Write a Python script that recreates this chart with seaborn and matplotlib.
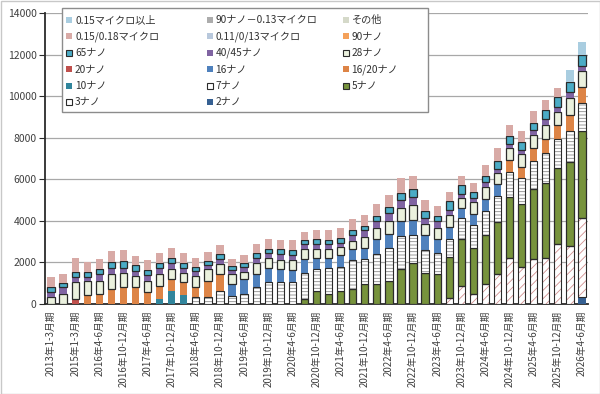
import numpy as np
import pandas as pd
import matplotlib
matplotlib.use("Agg")
import matplotlib.pyplot as plt
import seaborn as sns
from matplotlib.patches import Rectangle

# ---------------- data ----------------
quarters = ["1-3", "4-6", "7-9", "10-12"]
periods = ["2013年1-3月期", "2014年1-3月期", "2015年1-3月期"] + \
          [f"{y}年{q}月期" for y in range(2016, 2027) for q in quarters][:42]

n2 = [0, 0, 0, 0, 0, 0, 0, 0, 0, 0, 0, 0, 0, 0, 0, 0, 0, 0, 0, 0, 0, 0, 0, 0, 0, 0, 0, 0, 0, 0,
      0, 0, 0, 0, 0, 0, 0, 0, 0, 0, 0, 0, 0, 0, 320]
n3 = [0, 0, 0, 0, 0, 0, 0, 0, 0, 0, 0, 0, 0, 0, 0, 0, 0, 0, 0, 0, 0, 0, 0, 0, 0, 0, 0, 0, 0, 0,
      0, 0, 0, 270, 880, 480, 960, 1460, 2230, 1800, 2180, 2230, 2870, 2790, 3820]
n5 = [0, 0, 0, 0, 0, 0, 0, 0, 0, 0, 0, 0, 0, 0, 0, 0, 0, 0, 0, 0, 0, 240, 640, 480, 640, 720, 960, 960, 1110, 1670,
      1960, 1510, 1430, 2010, 2230, 2230, 2380, 2470, 2940, 3030, 3350, 3620, 3660, 4060, 4190]
n7 = [0, 0, 0, 0, 0, 0, 0, 0, 0, 0, 0, 0, 330, 320, 640, 400, 480, 800, 1040, 1040, 1070, 1270, 1060, 1270, 1160, 1400, 1190, 1430, 1600, 1590,
      1380, 1080, 1040, 860, 1030, 1110, 1120, 1280, 1200, 1220, 1350, 1400, 1430, 1480, 1340]
n10 = [0, 0, 0, 0, 0, 0, 0, 0, 0, 240, 640, 430, 0, 0, 0, 0, 0, 0, 0, 0, 0, 0, 0, 0, 0, 0, 0, 0, 0, 0,
       0, 0, 0, 0, 0, 0, 0, 0, 0, 0, 0, 0, 0, 0, 0]
n16_20 = [0, 0, 0, 430, 480, 720, 800, 800, 560, 640, 550, 610, 470, 790, 790, 0, 0, 0, 0, 0, 0, 0, 0, 0, 0, 0, 0, 0, 0, 0,
          0, 0, 0, 0, 0, 0, 0, 0, 560, 560, 640, 710, 640, 750, 790]
n16 = [0, 0, 0, 0, 0, 0, 0, 0, 0, 0, 0, 0, 0, 0, 0, 560, 710, 630, 710, 630, 570, 640, 530, 480, 540, 510, 560, 720, 680, 720,
       720, 710, 640, 570, 480, 510, 590, 570, 0, 0, 0, 0, 0, 0, 0]
n20 = [0, 0, 240, 0, 0, 0, 0, 0, 0, 0, 0, 0, 0, 0, 0, 0, 0, 0, 0, 0, 0, 0, 0, 0, 0, 0, 0, 0, 0, 0,
       0, 0, 0, 0, 0, 0, 0, 0, 0, 0, 0, 0, 0, 0, 0]
n28 = [330, 480, 800, 680, 630, 710, 710, 550, 550, 550, 510, 470, 550, 560, 480, 470, 350, 530, 480, 450, 480, 480, 430, 430, 420, 400, 510, 550, 590, 640,
       720, 550, 550, 590, 480, 560, 570, 510, 560, 610, 600, 640, 640, 840, 770]
n40_45 = [270, 320, 280, 210, 320, 320, 240, 240, 270, 320, 270, 240, 240, 190, 270, 210, 240, 270, 210, 270, 240, 270, 250, 210, 190, 310, 330, 320, 400, 400,
          390, 290, 320, 240, 200, 210, 270, 190, 200, 220, 270, 320, 270, 270, 240]
n65 = [200, 200, 240, 240, 270, 270, 300, 270, 240, 240, 260, 240, 210, 210, 210, 190, 210, 210, 220, 240, 220, 160, 200, 200, 240, 240, 220, 270, 270, 320,
       360, 320, 270, 400, 420, 270, 270, 410, 380, 360, 320, 430, 440, 510, 520]
m015_018 = [500, 430, 640, 460, 450, 530, 530, 450, 500, 480, 480, 450, 430, 430, 430, 320, 350, 430, 480, 430, 480, 410, 440, 480, 470, 510, 530, 580, 610, 710,
            630, 560, 480, 430, 440, 440, 530, 640, 530, 530, 570, 480, 430, 0, 0]
m015_up = [0, 0, 0, 0, 0, 0, 0, 0, 0, 0, 0, 0, 0, 0, 0, 0, 0, 0, 0, 0, 0, 0, 0, 0, 0, 0, 0, 0, 0, 0,
           0, 0, 0, 0, 0, 0, 0, 0, 0, 0, 0, 0, 0, 560, 640]

legend_names = ["0.15マイクロ以上", "90ナノ－0.13マイクロ", "その他",
                "0.15/0.18マイクロ", "0.11/0/13マイクロ", "90ナノ",
                "65ナノ", "40/45ナノ", "28ナノ",
                "20ナノ", "16ナノ", "16/20ナノ",
                "10ナノ", "7ナノ", "5ナノ",
                "3ナノ", "2ナノ"]

# ---------------- styles ----------------
DARK = "#2b2b2b"
style = {
    "0.15マイクロ以上": dict(face="#a9cde0", edge=None, hatch=None),
    "90ナノ－0.13マイクロ": dict(face="#acacac", edge=None, hatch=None),
    "その他": dict(face="#d5d9c9", edge=None, hatch=None),
    "0.15/0.18マイクロ": dict(face="#d8aaa6", edge=None, hatch=None),
    "0.11/0/13マイクロ": dict(face="#b8c8dc", edge=None, hatch=None),
    "90ナノ": dict(face="#f4a15a", edge=None, hatch=None),
    "65ナノ": dict(face="#4bacc6", edge=DARK, hatch=None),
    "40/45ナノ": dict(face="#8064a2", edge=None, hatch=None),
    "28ナノ": dict(face="#ebf1de", edge=DARK, hatch=None),
    "20ナノ": dict(face="#c0504d", edge=None, hatch=None),
    "16ナノ": dict(face="#4f81bd", edge=None, hatch=None),
    "16/20ナノ": dict(face="#dd8446", edge=None, hatch=None),
    "10ナノ": dict(face="#31859c", edge=None, hatch=None),
    "7ナノ": dict(face="white", edge=DARK, hatch="-----", hcol="#8a8a8a"),
    "5ナノ": dict(face="#77933c", edge=DARK, hatch=None),
    "3ナノ": dict(face="white", edge=DARK, hatch="////", hcol="#cf8f8f"),
    "2ナノ": dict(face="#366092", edge=None, hatch=None),
}

stack = [("2ナノ", n2), ("3ナノ", n3), ("5ナノ", n5), ("7ナノ", n7), ("10ナノ", n10),
         ("16/20ナノ", n16_20), ("16ナノ", n16), ("20ナノ", n20), ("28ナノ", n28),
         ("40/45ナノ", n40_45), ("65ナノ", n65), ("0.15/0.18マイクロ", m015_018),
         ("0.15マイクロ以上", m015_up)]

# ---------------- figure ----------------
sns.set_theme(style="white")
plt.rcParams["font.family"] = ["Noto Sans CJK JP", "DejaVu Sans"]
plt.rcParams["hatch.linewidth"] = 0.6

W, H = 600, 394
fig = plt.figure(figsize=(W / 100, H / 100), dpi=100)
fig.patch.set_facecolor("white")
ax_l, ax_r, ax_t, ax_b = 45, 588, 13.3, 304
ax = fig.add_axes([ax_l / W, 1 - ax_b / H, (ax_r - ax_l) / W, (ax_b - ax_t) / H])

N = len(periods)
bottom = np.zeros(N)
BW = 0.6
for name, vals in stack:
    v = np.asarray(vals, dtype=float)
    st = style[name]
    n0 = len(ax.patches)
    if st["hatch"]:
        sns.barplot(x=periods, y=v, bottom=bottom, color=st["face"], saturation=1,
                    width=BW, edgecolor=st["hcol"], linewidth=0, hatch=st["hatch"],
                    errorbar=None, ax=ax, zorder=3)
        sns.barplot(x=periods, y=v, bottom=bottom, color=st["edge"], saturation=1,
                    width=BW, fill=False, linewidth=0.8, errorbar=None, ax=ax, zorder=4)
    elif st["edge"]:
        sns.barplot(x=periods, y=v, bottom=bottom, color=st["face"], saturation=1,
                    width=BW, edgecolor=st["edge"], linewidth=0.9,
                    errorbar=None, ax=ax, zorder=3)
    else:
        sns.barplot(x=periods, y=v, bottom=bottom, color=st["face"], saturation=1,
                    width=BW, edgecolor="none", linewidth=0,
                    errorbar=None, ax=ax, zorder=3)
    for p in ax.patches[n0:]:
        if p.get_height() <= 0:
            p.set_visible(False)
    bottom += v

# ---------------- axes ----------------
ax.set_xlim(-0.5, N - 0.5)
ax.set_ylim(0, 14000)
ax.set_yticks(np.arange(0, 14001, 2000))
ax.set_yticklabels([str(t) for t in range(0, 14001, 2000)], fontsize=7.5, color="#404040")
ax.yaxis.grid(True, color="#a8a8a8", linewidth=0.9, zorder=0)
ax.xaxis.grid(False)
ax.set_axisbelow(True)
ax.set_xlabel("")
ax.set_ylabel("")

ax.set_xticks(range(N))
ax.set_xticklabels([p if i % 2 == 0 else "" for i, p in enumerate(periods)],
                   rotation=90, fontsize=7, color="#404040", va="top", ha="center")
ax.set_xticks(np.arange(-0.5, N, 1.0), minor=True)
ax.tick_params(axis="x", which="major", length=0, pad=5)
ax.tick_params(axis="x", which="minor", length=4, width=0.8, color=DARK, direction="out")
ax.tick_params(axis="y", which="major", left=True, length=4, width=0.8, color=DARK,
               direction="out", pad=2)
for s in ["top", "right"]:
    ax.spines[s].set_visible(False)
for s in ["left", "bottom"]:
    ax.spines[s].set_visible(True)
    ax.spines[s].set_color(DARK)
    ax.spines[s].set_linewidth(1.3)

# ---------------- legend (row-major, 3 columns) ----------------
def fx(px):
    return px / W

def fy(py):
    return 1 - py / H

lx0, ly0, lx1, ly1 = 62, 8, 428, 112
fig.add_artist(Rectangle((fx(lx0), fy(ly1)), fx(lx1 - lx0), (ly1 - ly0) / H,
                         transform=fig.transFigure, facecolor="white",
                         edgecolor="#8c8c8c", linewidth=1.0, zorder=10))
col_x = [66, 206.5, 342.5]
row_y0, row_dy = 20, 16.45
ms = 6
for k, name in enumerate(legend_names):
    r, c = divmod(k, 3)
    st = style[name]
    cx, cy = col_x[c], row_y0 + r * row_dy
    edge = st["edge"] if st["edge"] else "none"
    fig.add_artist(Rectangle((fx(cx), fy(cy + ms / 2)), fx(ms), ms / H,
                             transform=fig.transFigure, facecolor=st["face"],
                             edgecolor=edge, linewidth=0.8 if st["edge"] else 0,
                             hatch="//" if name == "3ナノ" else None, zorder=11))
    fig.text(fx(cx + ms + 3), fy(cy), name, fontsize=7.3, color="#303030",
             va="center", ha="left", zorder=12)

# outer chart border
fig.add_artist(Rectangle((0.5 / W, 0.5 / H), (W - 1) / W, (H - 1) / H,
                         transform=fig.transFigure, fill=False,
                         edgecolor="#c8c8c8", linewidth=1.0, zorder=20))

fig.savefig("out.png", dpi=100, facecolor="white")
